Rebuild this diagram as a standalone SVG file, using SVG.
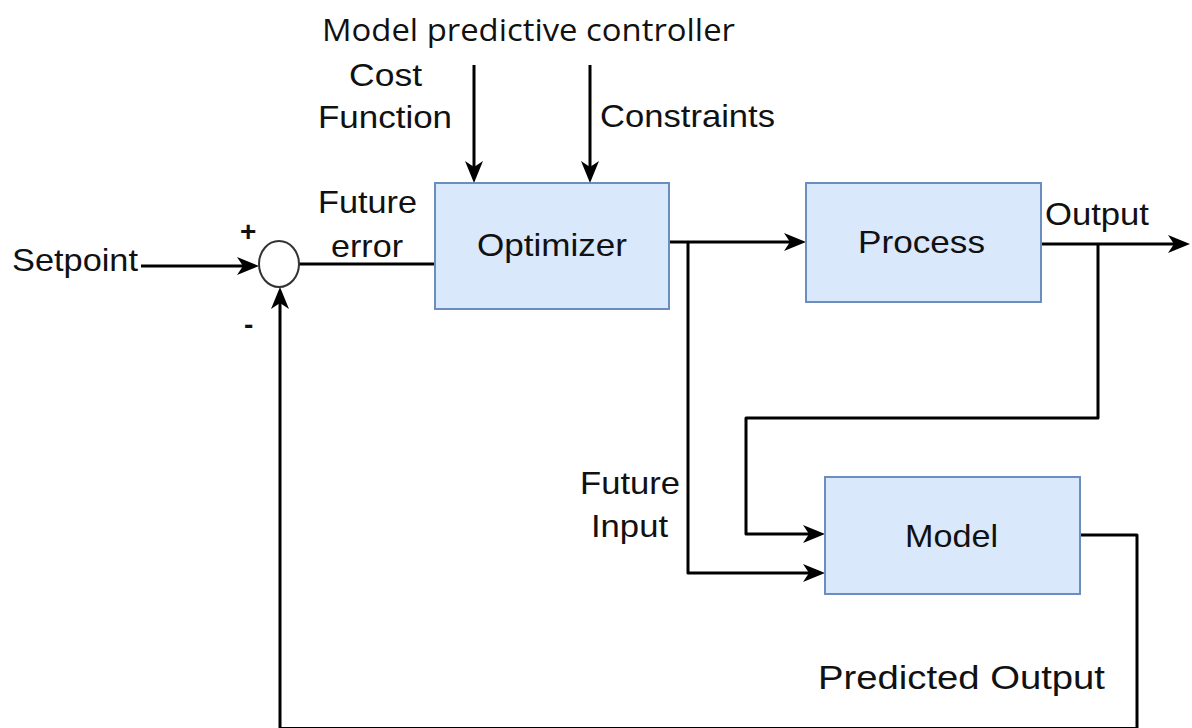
<svg xmlns="http://www.w3.org/2000/svg" width="1192" height="728" viewBox="0 0 1192 728">
<defs>
<style>
.box{fill:#dae8fc;stroke:#6c8ebf;stroke-width:2}
.t{font-family:"Liberation Sans",Arial,sans-serif;font-size:32px;fill:#111}
.tc{font-family:"Open Sans","Liberation Sans",sans-serif;font-size:31px;fill:#111}
.sg{font-family:"Liberation Sans",Arial,sans-serif;font-size:28px;font-weight:bold;fill:#111}
.ln{fill:none;stroke:#000;stroke-width:3;stroke-linejoin:round}
</style>
<marker id="arr" viewBox="0 0 22 18" refX="13" refY="9" markerWidth="22" markerHeight="18" markerUnits="userSpaceOnUse" orient="auto">
<path d="M0,0 L22,9 L0,18 L6,9 z" fill="#000"/>
</marker>
</defs>
<rect width="1192" height="728" fill="#fff"/>
<g id="connectors">
<path class="ln" d="M141,266 H250" marker-end="url(#arr)"/>
<path class="ln" d="M299,264 H435"/>
<path class="ln" d="M474,65 V174" marker-end="url(#arr)"/>
<path class="ln" d="M590,65 V174" marker-end="url(#arr)"/>
<path class="ln" d="M669,242 H797" marker-end="url(#arr)"/>
<path class="ln" d="M1041,244 H1181" marker-end="url(#arr)"/>
<path class="ln" d="M688,242 V573 H816" marker-end="url(#arr)"/>
<path class="ln" d="M1098,244 V418 H746 V534 H816" marker-end="url(#arr)"/>
<path class="ln" d="M1080,535 H1137 V728.5 H280 V296" marker-end="url(#arr)"/>
</g>
<g id="title">
<text class="tc" x="322" y="41" textLength="413" lengthAdjust="spacingAndGlyphs">Model predictive controller</text>
</g>
<g id="sum">
<ellipse cx="279" cy="264" rx="20" ry="23" fill="#fff" stroke="#333" stroke-width="2"/>
<text class="sg" x="240" y="241">+</text>
<text class="sg" x="244" y="334">-</text>
</g>
<g id="setpoint">
<text class="t" x="12" y="271" textLength="126" lengthAdjust="spacingAndGlyphs">Setpoint</text>
</g>
<g id="optimizer">
<rect class="box" x="435" y="183" width="234" height="126"/>
<text class="t" x="477" y="256" textLength="150" lengthAdjust="spacingAndGlyphs">Optimizer</text>
</g>
<g id="process">
<rect class="box" x="806" y="183" width="235" height="119"/>
<text class="t" x="858" y="253" textLength="127" lengthAdjust="spacingAndGlyphs">Process</text>
</g>
<g id="model">
<rect class="box" x="825" y="477" width="255" height="117"/>
<text class="t" x="905" y="547" textLength="93" lengthAdjust="spacingAndGlyphs">Model</text>
</g>
<g id="labels">
<text class="t" x="349" y="86" textLength="73" lengthAdjust="spacingAndGlyphs">Cost</text>
<text class="t" x="318" y="128" textLength="134" lengthAdjust="spacingAndGlyphs">Function</text>
<text class="t" x="600" y="127" textLength="175" lengthAdjust="spacingAndGlyphs">Constraints</text>
<text class="t" x="318" y="213" textLength="99" lengthAdjust="spacingAndGlyphs">Future</text>
<text class="t" x="331" y="257" textLength="72" lengthAdjust="spacingAndGlyphs">error</text>
<text class="t" x="1045" y="225" textLength="104" lengthAdjust="spacingAndGlyphs">Output</text>
<text class="t" x="580" y="494" textLength="100" lengthAdjust="spacingAndGlyphs">Future</text>
<text class="t" x="591" y="537" textLength="77" lengthAdjust="spacingAndGlyphs">Input</text>
<text class="t" x="818" y="689" textLength="287" lengthAdjust="spacingAndGlyphs" style="font-size:34px">Predicted Output</text>
</g>
</svg>
